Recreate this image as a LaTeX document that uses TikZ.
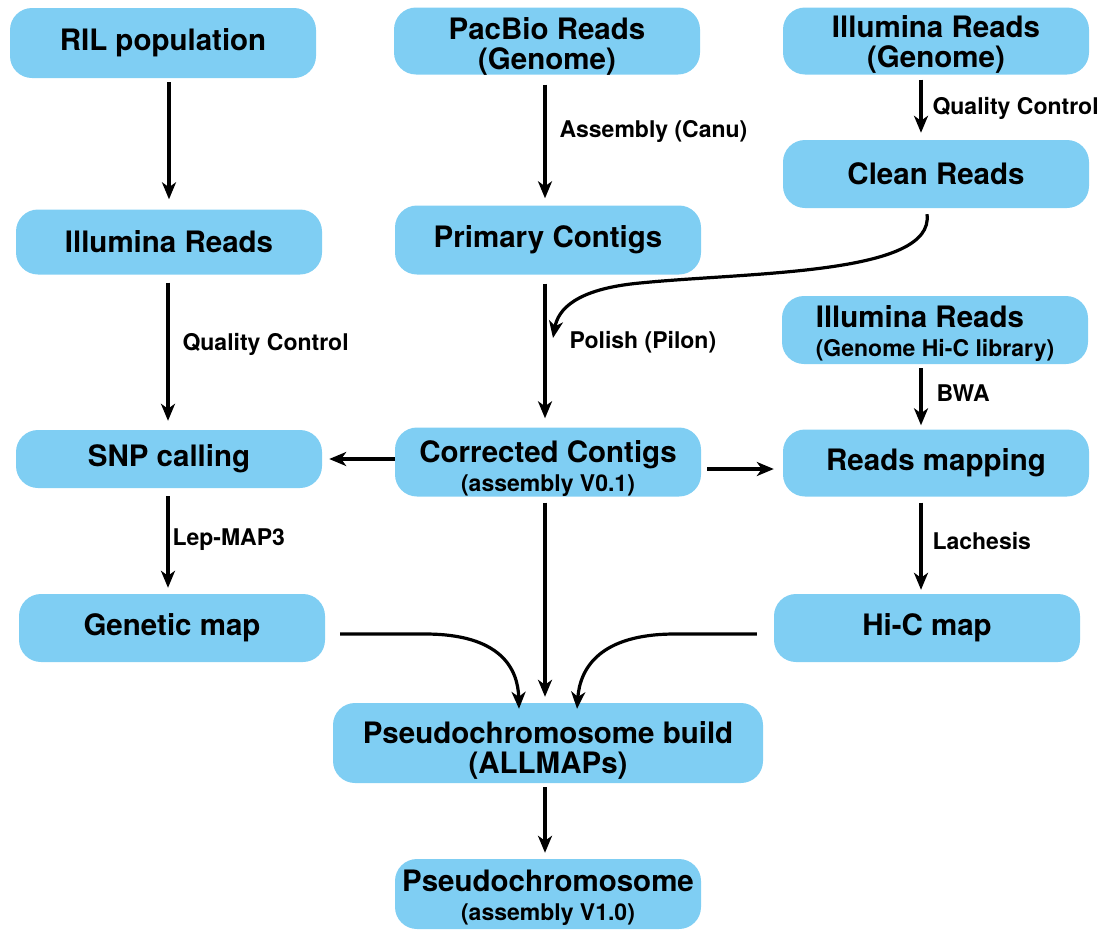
\documentclass[tikz,border=0pt]{standalone}
\usepackage{fontspec}
\setmainfont{TeX Gyre Heros}
\usetikzlibrary{arrows.meta}
\definecolor{boxblue}{HTML}{7FCEF3}
\newcommand{\subtxt}{\fontsize{23}{25}\selectfont}

\begin{document}
\begin{tikzpicture}[x=1pt,y=-1pt,
    box/.style={fill=boxblue,rounded corners=22pt,minimum width=306pt,minimum height=68pt,
                inner sep=0pt,align=center,font=\fontsize{29.5}{30}\selectfont\bfseries},
    twoline/.style={text depth=0pt,text height=#1},
    lab/.style={right,font=\fontsize{23}{25}\selectfont\bfseries},
    arr/.style={line width=3.2pt,-{Stealth[length=17pt,width=14pt,inset=5pt]}}]
  \useasboundingbox (0,0) rectangle (1107,929);
  % boxes
  \node[box,minimum height=70pt] (ril) at (163,43) {RIL population};
  \node[box,twoline=57.5pt,minimum height=67pt] (pacbio) at (547,41) {PacBio Reads\\(Genome)};
  \node[box,twoline=53.5pt,minimum height=67pt] (ilmg) at (936,41) {Illumina Reads\\(Genome)};
  \node[box] (clean) at (936,174) {Clean Reads};
  \node[box,minimum height=65pt] (ilm) at (169,242) {Illumina Reads};
  \node[box,minimum height=69pt] (primary) at (548,240) {Primary Contigs};
  \node[box,twoline=52.5pt,align=left] (hic) at (935,330) {Illumina Reads\\[-1pt]{\subtxt(Genome Hi-C library)}};
  \node[box,minimum height=58pt] (snp) at (169,459) {SNP calling};
  \node[box,twoline=59.5pt,minimum height=69pt] (corr) at (548,462) {Corrected Contigs\\[-1pt]{\subtxt(assembly V0.1)}};
  \node[box,minimum height=67pt] (rmap) at (936,463) {Reads mapping};
  \node[box] (gen) at (172,628) {Genetic map};
  \node[box] (hicmap) at (927,628) {Hi-C map};
  \node[box,twoline=61.5pt,minimum width=430pt,minimum height=80pt] (build) at (548,743) {Pseudochromosome build\\(ALLMAPs)};
  \node[box,twoline=52.5pt,minimum height=70pt] (pseudo) at (548,894) {Pseudochromosome\\[-1pt]{\subtxt(assembly V1.0)}};
  % straight arrows
  \draw[arr,shorten <=4pt,shorten >=10pt] (ilm.north |- ril.south) -- (ilm.north);
  \draw[arr,shorten <=10pt,shorten >=7pt] ([xshift=-2pt]pacbio.south) -- ([xshift=-3pt]primary.north);
  \draw[arr,shorten <=5pt,shorten >=7pt] ([xshift=-15pt]ilmg.south) -- ([xshift=-15pt]clean.north);
  \draw[arr,shorten <=8pt,shorten >=9pt] ([xshift=-1pt]ilm.south) -- ([xshift=-1pt]snp.north);
  \draw[arr,shorten <=9pt,shorten >=9pt] ([xshift=-3pt]primary.south) -- ([xshift=-3pt]corr.north);
  \draw[arr,shorten <=4pt,shorten >=4pt] ([xshift=-14pt]hic.south) -- ([xshift=-15pt]rmap.north);
  \draw[arr,shorten >=7pt] (corr.west |- snp.east) -- (snp.east);
  \draw[arr,shorten <=6pt,shorten >=9pt] ([yshift=-7pt]corr.east) -- ([yshift=-6pt]rmap.west);
  \draw[arr,shorten <=8pt,shorten >=6pt] ([xshift=-1pt]snp.south) -- ([xshift=-1pt]snp.south |- gen.north);
  \draw[arr,shorten <=6pt,shorten >=4pt] ([xshift=-15pt]rmap.south) -- ([xshift=-6pt]hicmap.north);
  \draw[arr,shorten <=6pt,shorten >=6pt] ([xshift=-3pt]corr.south) -- ([xshift=-3pt]build.north);
  \draw[arr,shorten <=4pt,shorten >=6pt] ([xshift=-3pt]build.south) -- ([xshift=-3pt]pseudo.north);
  % curved arrows
  \draw[arr] ([xshift=-9pt,yshift=-6pt]clean.south) .. controls (935,275) and (750,272) .. (640,283)
    .. controls (575,289) and (558,310) .. (553,338);
  \draw[arr] ([xshift=15pt,yshift=-6pt]gen.east) -- (425,634) .. controls (500,634) and (518,668) .. ([xshift=-29pt,yshift=-6pt]build.north);
  \draw[arr] ([xshift=-17pt,yshift=-6pt]hicmap.west) -- (675,634) .. controls (600,634) and (580,668) .. ([xshift=29pt,yshift=-6pt]build.north);
  % labels
  \node[lab] (canu) at (556,131) {Assembly (Canu)};
  \node[lab] (qc1) at (929,108) {Quality Control};
  \node[lab] (qc2) at (179,344) {Quality Control};
  \node[lab] (pilon) at (566,342) {Polish (Pilon)};
  \node[lab] (bwa) at (933,393) {BWA};
  \node[lab] (lep) at (169,540) {Lep-MAP3};
  \node[lab] (lach) at (929,541) {Lachesis};
\end{tikzpicture}
\end{document}
